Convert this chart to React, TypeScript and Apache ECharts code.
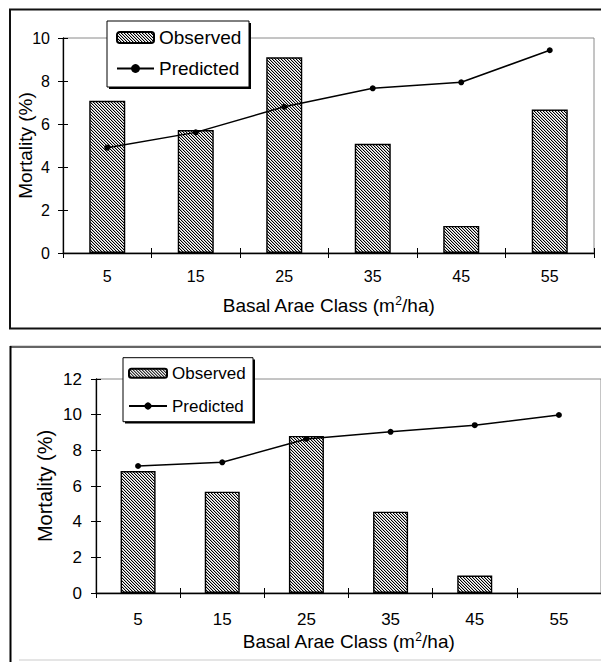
import React, { useEffect, useRef } from "react";
import * as echarts from "echarts";

const categories = ["5", "15", "25", "35", "45", "55"];
const observedTop = [7.08, 5.72, 9.1, 5.08, 1.26, 6.67];
const predictedTop = [4.9, 5.61, 6.8, 7.66, 7.94, 9.43];
const observedBottom: (number | null)[] = [6.84, 5.68, 8.81, 4.56, 0.98, null];
const predictedBottom = [7.12, 7.33, 8.64, 9.04, 9.41, 9.98];
const yTicksTop = { min: 0, max: 10, interval: 2 };
const yTicksBottom = { min: 0, max: 12, interval: 2 };

const FONT = "'Liberation Sans', Arial, sans-serif";

function makeHatch(): string {
  const n = 3;
  const c = document.createElement("canvas");
  c.width = n;
  c.height = n;
  const ctx = c.getContext("2d")!;
  const img = ctx.createImageData(n, n);
  for (let y = 0; y < n; y++) {
    for (let x = 0; x < n; x++) {
      const i = (y * n + x) * 4;
      const d = (x - y + n) % n;
      const v = d === 0 ? 0 : d === 1 ? 185 : 255;
      img.data[i] = v;
      img.data[i + 1] = v;
      img.data[i + 2] = v;
      img.data[i + 3] = 255;
    }
  }
  ctx.putImageData(img, 0, 0);
  return c.toDataURL();
}

export default function App() {
  const ref = useRef<HTMLDivElement>(null);
  useEffect(() => {
    if (!ref.current) return;
    const chart = echarts.init(ref.current, null, { renderer: "svg" });
    const hatch = { image: makeHatch(), repeat: "repeat", imageWidth: 3, imageHeight: 3 } as any;

    const barStyle = { color: hatch, borderColor: "#000", borderWidth: 1.4 };

    const xMain = (gi: number, labelSize: number, margin: number, nameGap: number, nameSize: number) => ({
      type: "category",
      gridIndex: gi,
      position: "bottom",
      data: categories,
      boundaryGap: true,
      axisLine: { show: true, lineStyle: { color: "#000", width: 1.3 } },
      axisTick: { show: true, inside: false, length: 5, lineStyle: { color: "#000" } },
      axisLabel: { color: "#000", fontSize: labelSize, fontFamily: FONT, margin },
      name: "Basal Arae Class (m{sup|2}/ha)",
      nameLocation: "middle",
      nameGap,
      nameMoveOverlap: false,
      nameTextStyle: {
        color: "#000",
        fontSize: nameSize,
        fontFamily: FONT,
        rich: {
          sup: { fontSize: Math.round(nameSize * 0.65), verticalAlign: "top", padding: [0, 0, 8, 0], color: "#000", fontFamily: FONT },
        },
      },
      splitLine: { show: false },
    });
    const xDup = (gi: number) => ({
      type: "category",
      gridIndex: gi,
      position: "bottom",
      data: categories,
      boundaryGap: true,
      axisLine: { show: false },
      axisTick: { show: true, inside: true, length: 5, lineStyle: { color: "#000" } },
      axisLabel: { show: false },
      splitLine: { show: false },
    });
    const yMain = (gi: number, t: any, labelSize: number, margin: number, nameGap: number, nameSize: number) => ({
      type: "value",
      gridIndex: gi,
      position: "left",
      min: t.min,
      max: t.max,
      interval: t.interval,
      axisLine: { show: true, lineStyle: { color: "#000", width: 1.3 } },
      axisTick: { show: true, inside: false, length: 5, lineStyle: { color: "#000" } },
      axisLabel: { color: "#000", fontSize: labelSize, fontFamily: FONT, margin },
      splitLine: { show: false },
      name: "Mortality (%)",
      nameLocation: "middle",
      nameGap,
      nameMoveOverlap: false,
      nameTextStyle: { color: "#000", fontSize: nameSize, fontFamily: FONT },
    });
    const yDup = (gi: number, t: any) => ({
      type: "value",
      gridIndex: gi,
      position: "left",
      min: t.min,
      max: t.max,
      interval: t.interval,
      axisLine: { show: false },
      axisTick: { show: true, inside: true, length: 5, lineStyle: { color: "#000" } },
      axisLabel: { show: false },
      splitLine: { show: false },
    });

    const lineSeries = (xi: number, yi: number, data: number[]) => ({
      type: "line",
      name: "Predicted",
      xAxisIndex: xi,
      yAxisIndex: yi,
      data,
      symbol: "circle",
      symbolSize: 6,
      showSymbol: true,
      itemStyle: { color: "#000" },
      lineStyle: { color: "#000", width: 1.5 },
      z: 5,
    });

    chart.setOption({
      animation: false,
      backgroundColor: "#fff",
      textStyle: { fontFamily: FONT },
      grid: [
        { left: 63, top: 38, width: 531, height: 215, show: true, borderColor: "#8a8a8a", borderWidth: 1, backgroundColor: "transparent" },
        { left: 96, top: 379, width: 507, height: 214, show: true, borderColor: "#8a8a8a", borderWidth: 1, backgroundColor: "transparent" },
      ],
      legend: [
        {
          orient: "vertical",
          left: 116,
          top: 27.5,
          padding: 0,
          itemGap: 11,
          itemWidth: 37,
          itemHeight: 11,
          data: ["Observed", "Predicted"],
          textStyle: { color: "#000", fontSize: 19, fontFamily: FONT, lineHeight: 20 },
          z: 10,
        },
        {
          orient: "vertical",
          left: 128,
          top: 363.3,
          padding: 0,
          itemGap: 12.7,
          itemWidth: 38,
          itemHeight: 9,
          data: ["Observed", "Predicted"],
          textStyle: { color: "#000", fontSize: 17, fontFamily: FONT, lineHeight: 20 },
          z: 10,
        },
      ],
      xAxis: [xMain(0, 16, 15, 42, 19), xDup(0), xMain(1, 17, 18, 38, 19), xDup(1)],
      yAxis: [yMain(0, yTicksTop, 16, 13, 28.5, 19), yDup(0, yTicksTop), yMain(1, yTicksBottom, 17, 14, 41, 20), yDup(1, yTicksBottom)],
      series: [
        { type: "bar", name: "Observed", xAxisIndex: 0, yAxisIndex: 0, data: observedTop, barWidth: 36, itemStyle: barStyle },
        lineSeries(0, 0, predictedTop),
        { type: "bar", name: "Observed", xAxisIndex: 2, yAxisIndex: 2, data: observedBottom, barWidth: 35, itemStyle: barStyle },
        lineSeries(2, 2, predictedBottom),
      ],
      graphic: [
        // top chart frame
        { type: "rect", z: -10, shape: { x: 10, y: 9.5, width: 620, height: 319 }, style: { fill: "none", stroke: "#111", lineWidth: 2 } },
        // bottom chart frame
        { type: "line", z: -10, shape: { x1: 10, y1: 345.7, x2: 601, y2: 345.7 }, style: { stroke: "#cfcfcf", lineWidth: 1 } },
        { type: "line", z: -10, shape: { x1: 10, y1: 347, x2: 601, y2: 347 }, style: { stroke: "#333", lineWidth: 1.3 } },
        { type: "line", z: -10, shape: { x1: 10.5, y1: 346, x2: 10.5, y2: 662 }, style: { stroke: "#000", lineWidth: 2 } },
        { type: "line", z: -10, shape: { x1: 19, y1: 660, x2: 601, y2: 660 }, style: { stroke: "#dcdcdc", lineWidth: 1.5 } },
        // legend boxes with shadows
        { type: "rect", z: 8, shape: { x: 109, y: 23, width: 142, height: 66 }, style: { fill: "#000" } },
        { type: "rect", z: 9, shape: { x: 107, y: 21, width: 142, height: 66 }, style: { fill: "#fff", stroke: "#000", lineWidth: 1 } },
        { type: "rect", z: 8, shape: { x: 125, y: 359.5, width: 130, height: 64 }, style: { fill: "#000" } },
        { type: "rect", z: 9, shape: { x: 123, y: 357.7, width: 130, height: 64 }, style: { fill: "#fff", stroke: "#000", lineWidth: 1 } },
      ],
    } as any);
    return () => chart.dispose();
  }, []);
  return <div ref={ref} style={{ position: "absolute", left: 0, top: 0, width: 601, height: 662 }} />;
}
